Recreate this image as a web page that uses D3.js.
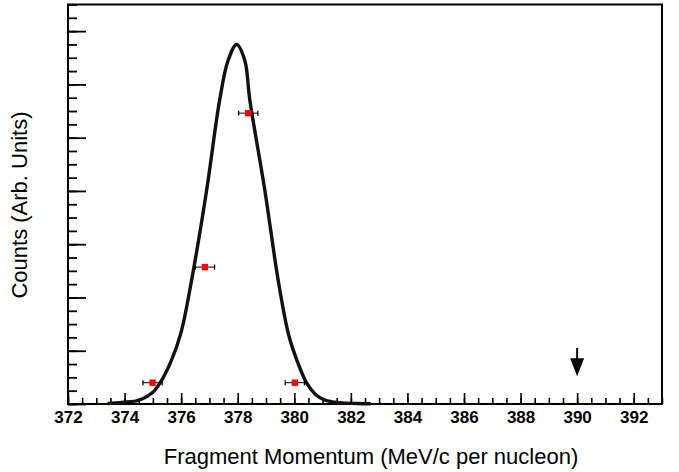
<!DOCTYPE html>
<html>
<head>
<meta charset="utf-8">
<script src="https://cdn.jsdelivr.net/npm/d3@7"></script>
<style>
  html, body { margin: 0; padding: 0; background: #fff; }
  svg { display: block; }
  text { font-family: "Liberation Sans", Arial, Helvetica, sans-serif; fill: #000; }
</style>
</head>
<body>
<svg id="chart" width="679" height="472"></svg>
<script>
// ---- data ----
const xMajorTicks = [372, 374, 376, 378, 380, 382, 384, 386, 388, 390, 392];
const xMinorTicks = d3.range(372, 393.01, 0.5);
const yMajorTicks = [0, 1, 2, 3, 4, 5, 6, 7];
const yMinorTicks = d3.range(0, 7.51, 0.25);

// fitted curve (momentum, counts)
const curveX = [373.4, 373.9, 374.54, 375.0, 375.26, 375.66, 376.0, 376.37, 376.9, 377.36, 377.66, 377.96, 378.25, 378.43, 378.96, 379.43, 379.8, 380.09, 380.43, 380.75, 381.08, 381.6, 382.2, 382.7];
const curveY = [0.01, 0.03, 0.075, 0.22, 0.40, 0.825, 1.35, 2.325, 4.01, 5.7, 6.45, 6.75, 6.45, 5.7, 4.01, 2.325, 1.3, 0.825, 0.40, 0.18, 0.075, 0.025, 0.01, 0.005];

// measured points
const pointX = [374.99, 376.84, 378.37, 380.02];
const pointY = [0.40, 2.57, 5.46, 0.40];
const pointErr = [0.34, 0.34, 0.34, 0.34];

// arrow marker
const arrowX = 390;
const arrowY = [1.05, 0.52];

const xTitle = "Fragment Momentum (MeV/c per nucleon)";
const yTitle = "Counts (Arb. Units)";

// ---- drawing ----
const svg = d3.select("#chart");
const L = 68, R = 662, T = 4.5, B = 404;
const x = d3.scaleLinear().domain([372, 393]).range([L, R]);
const y = d3.scaleLinear().domain([0, 7.5]).range([B, T]);

// minor x ticks
svg.append("g").attr("transform", `translate(0,${B})`)
  .call(d3.axisBottom(x).tickValues(xMinorTicks).tickSize(-6).tickFormat(""))
  .call(g => g.select(".domain").remove())
  .call(g => g.selectAll("line").attr("stroke", "#000").attr("stroke-width", 1.6));
// major x ticks + labels
svg.append("g").attr("transform", `translate(0,${B})`)
  .call(d3.axisBottom(x).tickValues(xMajorTicks).tickSize(-11).tickPadding(7).tickFormat(d3.format("d")))
  .call(g => g.select(".domain").remove())
  .call(g => g.selectAll("line").attr("stroke", "#000").attr("stroke-width", 1.6))
  .call(g => g.selectAll("text").attr("font-size", 17).attr("font-weight", "bold")
    .style("font-family", "'Liberation Sans', Arial, sans-serif"));

// minor y ticks
svg.append("g").attr("transform", `translate(${L},0)`)
  .call(d3.axisLeft(y).tickValues(yMinorTicks).tickSize(-9).tickFormat(""))
  .call(g => g.select(".domain").remove())
  .call(g => g.selectAll("line").attr("stroke", "#000").attr("stroke-width", 1.8));
// major y ticks
svg.append("g").attr("transform", `translate(${L},0)`)
  .call(d3.axisLeft(y).tickValues(yMajorTicks).tickSize(-18).tickFormat(""))
  .call(g => g.select(".domain").remove())
  .call(g => g.selectAll("line").attr("stroke", "#000").attr("stroke-width", 1.8));

// frame
svg.append("rect").attr("x", L).attr("y", T).attr("width", R - L).attr("height", B - T)
  .attr("fill", "none").attr("stroke", "#000").attr("stroke-width", 2);

// curve
const curvePts = curveX.map((d, i) => [d, curveY[i]]);
svg.append("path").datum(curvePts)
  .attr("d", d3.line().x(d => x(d[0])).y(d => y(d[1])).curve(d3.curveCatmullRom.alpha(0.5)))
  .attr("fill", "none").attr("stroke", "#111").attr("stroke-width", 3.4)
  .attr("stroke-linejoin", "round");

// error bars and points
const pts = pointX.map((d, i) => ({ x: d, y: pointY[i], e: pointErr[i] }));
const gp = svg.append("g");
pts.forEach(p => {
  const yy = y(p.y), x0 = x(p.x - p.e), x1 = x(p.x + p.e);
  gp.append("line").attr("x1", x0).attr("x2", x1).attr("y1", yy).attr("y2", yy)
    .attr("stroke", "#000").attr("stroke-width", 1);
  [x0, x1].forEach(xc => gp.append("line").attr("x1", xc).attr("x2", xc)
    .attr("y1", yy - 2.5).attr("y2", yy + 2.5).attr("stroke", "#000").attr("stroke-width", 1.3));
  gp.append("rect").attr("x", x(p.x) - 3.2).attr("y", yy - 3.2).attr("width", 6.4).attr("height", 6.4)
    .attr("fill", "#ff0000");
});

// arrow
const ax = x(arrowX), ay0 = y(arrowY[0]), ay1 = y(arrowY[1]);
svg.append("line").attr("x1", ax).attr("x2", ax).attr("y1", ay0).attr("y2", ay1 - 14)
  .attr("stroke", "#000").attr("stroke-width", 2);
svg.append("path")
  .attr("d", `M${ax - 7},${ay1 - 18} L${ax + 7},${ay1 - 18} L${ax},${ay1} Z`)
  .attr("fill", "#000");

// titles
svg.append("text").attr("x", 371).attr("y", 464).attr("text-anchor", "middle")
  .attr("font-size", 22).text(xTitle);
svg.append("text").attr("transform", "translate(27,205) rotate(-90)").attr("text-anchor", "middle")
  .attr("font-size", 22).text(yTitle);
</script>
</body>
</html>
